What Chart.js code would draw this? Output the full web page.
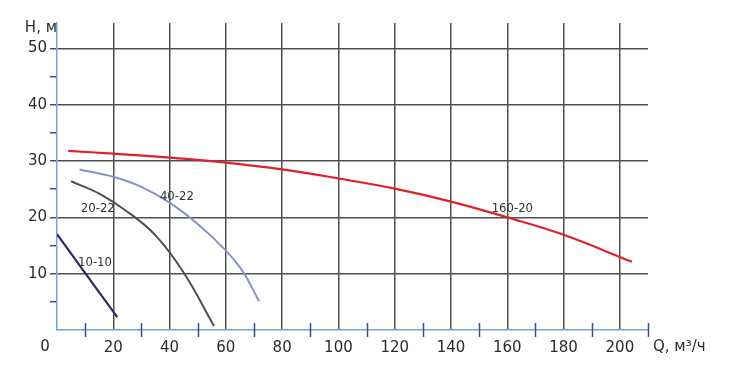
<!DOCTYPE html>
<html>
<head>
<meta charset="utf-8">
<script src="https://cdn.jsdelivr.net/npm/chart.js@4"></script>
<style>
  body { margin: 0; background: #fff; }
  #wrap { width: 733px; height: 369px; }
</style>
</head>
<body>
<div id="wrap"><canvas id="myChart"></canvas></div>
<script>
// pump curves, Q (m3/h) against H (m)
const names = ['160-20', '40-22', '20-22', '10-10'];
const curve16020 = [[4, 31.8], [20, 31.3], [40, 30.6], [60, 29.7], [80, 28.5], [100, 26.9], [120, 25.1], [140, 22.8], [160, 20.0], [180, 16.9], [204.3, 12.1]];
const curve4022 = [[8, 28.5], [20, 27.2], [30, 25.4], [40, 22.6], [50, 18.8], [60, 14.1], [66, 10.4], [71.8, 5.1]];
const curve2022 = [[5, 26.4], [15, 24.2], [25, 21.0], [35, 16.8], [45, 10.2], [55.8, 0.7]];
const curve1010 = [[0, 17.0], [9.9, 10.2], [21.4, 2.3]];
// where each curve name sits (Q, H)
const nameAt = [[161.8, 21.5], [42.6, 23.7], [14.5, 21.5], [13.5, 11.9]];

const xTicks = [0, 20, 40, 60, 80, 100, 120, 140, 160, 180, 200];
const xMinorTicks = [10, 30, 50, 70, 90, 110, 130, 150, 170, 190, 210];
const yTicks = [0, 5, 10, 15, 20, 25, 30, 35, 40, 45, 50];
const yLabelled = [10, 20, 30, 40, 50];

const gridColor = '#505050';
const axisColor = '#6fa6d6';
const tickColor = '#3b4d8a';
const textColor = '#2b2b2b';
const tickFont = { family: 'DejaVu Sans', size: 15 };

const toPts = arr => arr.map(p => ({ x: p[0], y: p[1] }));

const extras = {
  id: 'extras',
  afterDraw(chart) {
    const ctx = chart.ctx;
    const xs = chart.scales.x, ys = chart.scales.y;
    const area = chart.chartArea;
    ctx.save();
    // x minor tick marks crossing the axis
    ctx.strokeStyle = tickColor;
    ctx.lineWidth = 1.5;
    xMinorTicks.forEach(v => {
      const px = Math.round(xs.getPixelForValue(v)) + 0.5;
      ctx.beginPath();
      ctx.moveTo(px, area.bottom - 7);
      ctx.lineTo(px, area.bottom + 7);
      ctx.stroke();
    });
    // origin label and axis titles
    ctx.fillStyle = textColor;
    ctx.font = '15px "DejaVu Sans"';
    ctx.textBaseline = 'middle';
    ctx.textAlign = 'center';
    ctx.fillText('0', xs.getPixelForValue(0) - 12, area.bottom + 17);
    ctx.textAlign = 'right';
    ctx.fillText('H, м', area.left, area.top + 5);
    ctx.textAlign = 'left';
    ctx.fillText('Q, м³/ч', area.right + 5, area.bottom + 17);
    // curve names
    ctx.font = '13px "DejaVu Sans Condensed"';
    ctx.fillStyle = '#333';
    ctx.textAlign = 'center';
    names.forEach((n, i) => {
      ctx.fillText(n, xs.getPixelForValue(nameAt[i][0]), ys.getPixelForValue(nameAt[i][1]));
    });
    ctx.restore();
  }
};

new Chart(document.getElementById('myChart'), {
  type: 'line',
  data: {
    datasets: [
      { label: names[0], data: toPts(curve16020), borderColor: '#e0202b', borderWidth: 2.2 },
      { label: names[1], data: toPts(curve4022), borderColor: '#8793c4', borderWidth: 2 },
      { label: names[2], data: toPts(curve2022), borderColor: '#4c5050', borderWidth: 2 },
      { label: names[3], data: toPts(curve1010), borderColor: '#2a2a6a', borderWidth: 2.2 }
    ]
  },
  options: {
    responsive: true,
    maintainAspectRatio: false,
    animation: false,
    layout: { padding: { top: 23, right: 85, left: 0, bottom: 0 } },
    elements: {
      point: { radius: 0 },
      line: { tension: 0.4, fill: false }
    },
    plugins: { legend: { display: false }, tooltip: { enabled: false } },
    scales: {
      x: {
        type: 'linear',
        min: 0,
        max: 210,
        afterBuildTicks: s => { s.ticks = xTicks.map(v => ({ value: v })); },
        afterFit: s => { s.height = 39; },
        grid: {
          color: c => (c.tick && c.tick.value > 0) ? gridColor : 'rgba(0,0,0,0)',
          lineWidth: 1.5,
          drawTicks: false
        },
        border: { color: axisColor, width: 1.5 },
        ticks: {
          padding: 9,
          color: textColor,
          font: tickFont,
          maxRotation: 0,
          autoSkip: false,
          callback: v => v > 0 ? String(v) : ''
        }
      },
      y: {
        type: 'linear',
        min: 0,
        max: 54.5,
        afterBuildTicks: s => { s.ticks = yTicks.map(v => ({ value: v })); },
        afterFit: s => { s.width = 57; },
        grid: {
          color: c => (c.tick && c.tick.value > 0 && c.tick.value % 10 === 0) ? gridColor : 'rgba(0,0,0,0)',
          lineWidth: 1.5,
          tickColor: c => (c.tick && c.tick.value > 0) ? tickColor : 'rgba(0,0,0,0)',
          tickLength: 7,
          tickWidth: 1.5
        },
        border: { color: axisColor, width: 1.5 },
        ticks: {
          padding: 3,
          color: textColor,
          font: tickFont,
          autoSkip: false,
          callback: v => yLabelled.includes(v) ? String(v) : ''
        }
      }
    }
  },
  plugins: [extras]
});
</script>
</body>
</html>
